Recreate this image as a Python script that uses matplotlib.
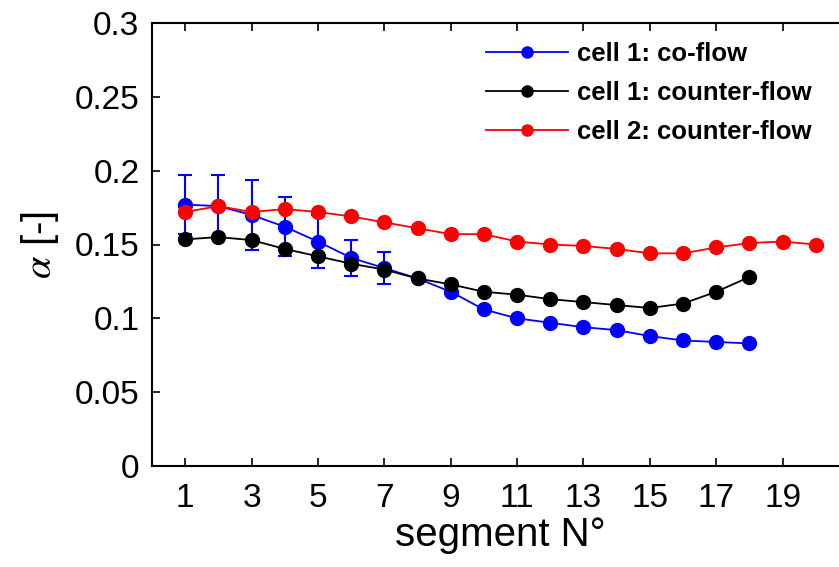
import matplotlib
matplotlib.use("Agg")
import matplotlib.pyplot as plt
import numpy as np

plt.rcParams['font.family'] = ['Liberation Sans', 'DejaVu Sans']
plt.rcParams['mathtext.fontset'] = 'stix'

segmentos = np.arange(1, 21)

# cell 1: co-flow (segments 1..18)
co_flow = [0.177, 0.176, 0.170, 0.162, 0.152, 0.141, 0.134, 0.127, 0.118, 0.106,
           0.100, 0.097, 0.094, 0.092, 0.088, 0.085, 0.084, 0.083]
co_flow_err = [0.020, 0.021, 0.024, 0.020, 0.018, 0.012, 0.011]

# cell 1: counter-flow (segments 1..18)
counter1 = [0.1535, 0.155, 0.153, 0.147, 0.142, 0.137, 0.133, 0.127, 0.123, 0.118,
            0.116, 0.113, 0.111, 0.109, 0.107, 0.110, 0.118, 0.128]

# cell 2: counter-flow (segments 1..20)
counter2 = [0.172, 0.176, 0.172, 0.174, 0.172, 0.169, 0.165, 0.161, 0.157, 0.157,
            0.152, 0.150, 0.149, 0.147, 0.144, 0.144, 0.148, 0.151, 0.152, 0.150]

fig = plt.figure(figsize=(8.39, 5.67), dpi=100)
ax = fig.add_axes([152/839, 1 - 466/567, (849 - 152)/839, (466 - 23)/567])

x18 = segmentos[:18]
ax.errorbar(x18[:7], co_flow[:7], yerr=co_flow_err, fmt='none', ecolor='blue',
            elinewidth=1.5, capsize=5, capthick=1.5, zorder=1)
ax.plot(x18, co_flow, '-o', color='blue', lw=1.3, ms=10, label='cell 1: co-flow', zorder=2)
ax.plot(x18, counter1, '-o', color='black', lw=1.3, ms=10, label='cell 1: counter-flow', zorder=3)
ax.plot(segmentos, counter2, '-o', color='red', lw=1.3, ms=10, label='cell 2: counter-flow', zorder=4)

ax.set_xlim(0, 21)
ax.set_ylim(0, 0.3)
ax.set_xticks(np.arange(1, 20, 2))
ax.set_yticks(np.arange(0, 0.301, 0.05))
ax.set_yticklabels(['0', '0.05', '0.1', '0.15', '0.2', '0.25', '0.3'])
ax.tick_params(direction='in', length=6, width=1.2, top=True, right=True,
               labelsize=24, pad=12)
ax.tick_params(axis='y', pad=9)
for s in ax.spines.values():
    s.set_linewidth(1.5)

ax.set_xlabel('segment N°', fontsize=29, labelpad=2)
ax.set_ylabel(r'$\alpha$ [-]', fontsize=29, labelpad=10)

ax.legend(loc='upper left', bbox_to_anchor=(473/839, 1 - 29/567),
          bbox_transform=fig.transFigure, frameon=False, borderpad=0,
          prop={'weight': 'bold', 'size': 18.5}, handlelength=3.2,
          handletextpad=0.35, labelspacing=0.58, markerscale=0.8)

fig.savefig('out.png', dpi=100)
